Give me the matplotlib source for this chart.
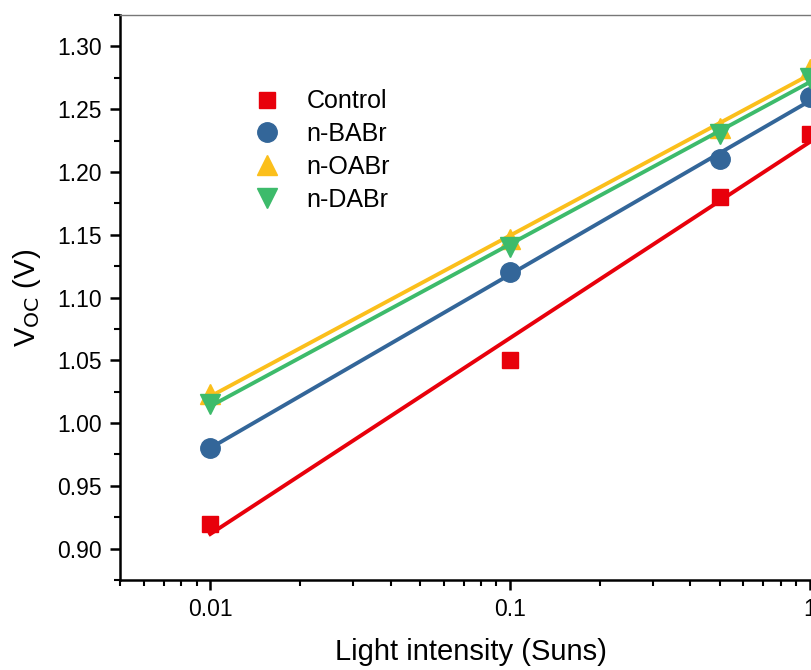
import numpy as np
import matplotlib.pyplot as plt
from matplotlib.ticker import FixedLocator, MultipleLocator, LogLocator, NullFormatter

plt.rcParams['font.family'] = ['Liberation Sans', 'DejaVu Sans']

intensity = [0.01, 0.1, 0.5, 1.0]
labels = ['Control', 'n-BABr', 'n-OABr', 'n-DABr']
control = [0.92, 1.05, 1.18, 1.23]
babr = [0.98, 1.12, 1.21, 1.26]
oabr = [1.023, 1.147, 1.235, 1.282]
dabr = [1.015, 1.140, 1.230, 1.275]

colors = ['#E8000B', '#336699', '#FBBF1B', '#3DBB6B']
markers = ['s', 'o', '^', 'v']
sizes = [11.5, 14, 14.5, 14.5]

fig = plt.figure(figsize=(8.12, 6.7), dpi=100)
ax = fig.add_axes([0.1478, 0.1343, 0.9606, 0.8433])

x = np.array(intensity)
for vals, lab, c, m, ms in zip([control, babr, oabr, dabr], labels, colors, markers, sizes):
    ax.plot(x, vals, linestyle='none', marker=m, color=c, markersize=ms, label=lab)
    # linear fit of Voc vs log(intensity)
    k, b = np.polyfit(np.log10(x), vals, 1)
    xf = np.array([0.01, 1.0])
    ax.plot(xf, k * np.log10(xf) + b, color=c, lw=2.8)

ax.set_xscale('log')
ax.set_xlim(0.005, 2)
ax.set_ylim(0.875, 1.325)
ax.xaxis.set_major_locator(FixedLocator([0.01, 0.1, 1]))
ax.set_xticklabels(['0.01', '0.1', '1'])
ax.xaxis.set_minor_locator(LogLocator(base=10, subs=np.arange(2, 10)))
ax.xaxis.set_minor_formatter(NullFormatter())
ax.yaxis.set_major_locator(MultipleLocator(0.05))
ax.yaxis.set_minor_locator(MultipleLocator(0.025))
ax.yaxis.set_major_formatter(plt.FormatStrFormatter('%.2f'))

ax.tick_params(which='major', direction='out', length=7, width=1.8, labelsize=16.5, pad=6)
ax.tick_params(which='minor', direction='out', length=4, width=1.5)
ax.tick_params(top=False, right=False)
for s in ['left', 'bottom']:
    ax.spines[s].set_linewidth(1.8)
ax.spines['top'].set_linewidth(1.0)
ax.spines['top'].set_color('#777777')
ax.spines['right'].set_visible(False)

ax.set_xlabel('Light intensity (Suns)', fontsize=21)
ax.xaxis.set_label_coords(0.45, -0.102)
ax.set_ylabel('V$_{\\mathrm{OC}}$ (V)', fontsize=21, labelpad=10)

ax.legend(loc='upper left', bbox_to_anchor=(0.141, 0.908), frameon=False, fontsize=18,
          handlelength=1.2, handletextpad=0.96, labelspacing=0.35, numpoints=1)

fig.savefig('out.png', dpi=100)
